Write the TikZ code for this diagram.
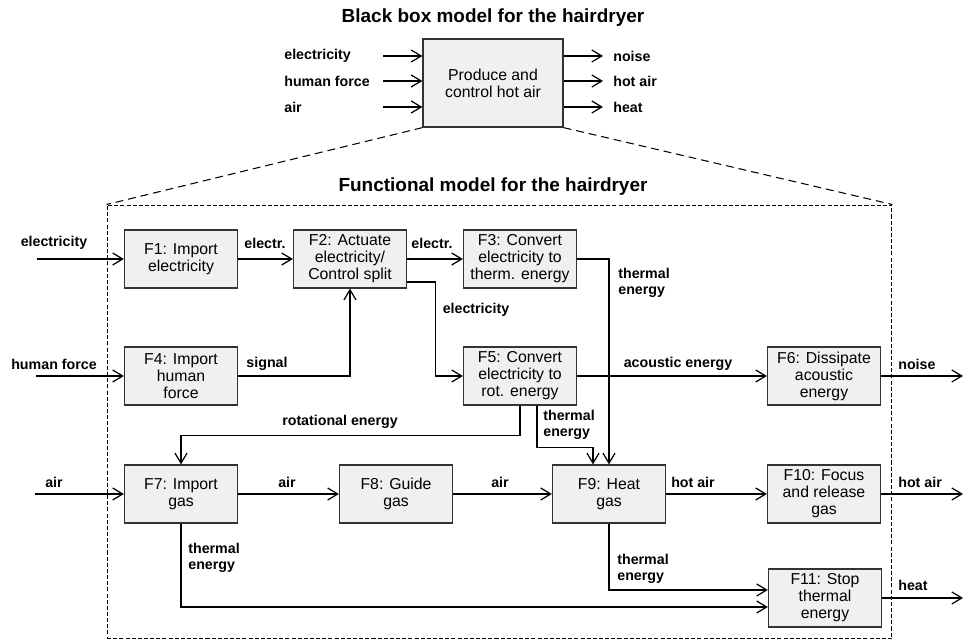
\documentclass[tikz,border=0pt]{standalone}
\usepackage{fontspec}
\setmainfont{Liberation Sans}
\usetikzlibrary{arrows.meta,calc}

\begin{document}
\begin{tikzpicture}[x=0.02cm,y=-0.02cm,
	fn/.style={draw=black!80, fill=black!6, line width=0.75pt, minimum width=2.26cm, minimum height=1.16cm, align=center, inner sep=1pt, font=\fontsize{9}{9.7}\selectfont},
	lbl/.style={font=\bfseries\fontsize{8.1}{9}\selectfont, align=left, inner sep=0pt},
	flow/.style={line width=0.7pt, -{Straight Barb[length=2mm,width=2.4mm]}},
	headline/.style={font=\bfseries\fontsize{10.8}{12}\selectfont}]
			%%%%% START %%%%%
			
			\useasboundingbox (0,0) rectangle (965,641);
			
			% black box
			\node[headline] (bbtitle) at (493,18) {Black box model for the hairdryer};
			\node[fn, minimum width=2.8cm, minimum height=1.76cm] (bb) at (493,83) {Produce and\\control hot air};
			
			\foreach \y/\t [count=\i] in {56/electricity, 81/human force, 107/air} {
				\coordinate (bbin\i) at (383,\y);
				\node[lbl, anchor=west] at (284,\y) {\t};
				\draw[flow] (bbin\i) -- (bbin\i -| bb.west);
			}
			\foreach \y/\t [count=\i] in {56/noise, 81/hot air, 107/heat} {
				\coordinate (bbout\i) at (603,\y);
				\draw[flow] (bbout\i -| bb.east) -- (bbout\i);
				\node[lbl, anchor=west] at (613,\y) {\t};
			}
			
			% functional model frame
			\node[headline] (fmtitle) at (493,187) {Functional model for the hairdryer};
			\node[draw, line width=0.6pt, dash pattern=on 2.3pt off 1.2pt, minimum width=15.7cm, minimum height=8.68cm, inner sep=0pt] (frame) at (499.5,422) {};
			\draw[line width=0.6pt, dash pattern=on 4.5pt off 2.8pt] (bb.south west) -- (frame.north west);
			\draw[line width=0.6pt, dash pattern=on 4.5pt off 2.8pt] (bb.south east) -- (frame.north east);
			
			% functions
			\node[fn] (f1) at (181,259) {F1: Import\\electricity};
			\node[fn] (f2) at (350,259) {F2: Actuate\\electricity/\\Control split};
			\node[fn] (f3) at (520,259) {F3: Convert\\electricity to\\therm. energy};
			\node[fn] (f4) at (181,376) {F4: Import\\human\\force};
			\node[fn] (f5) at (520,376) {F5: Convert\\electricity to\\rot. energy};
			\node[fn] (f6) at (824,376) {F6: Dissipate\\acoustic\\energy};
			\node[fn] (f7) at (181,494) {F7: Import\\gas};
			\node[fn] (f8) at (396,494) {F8: Guide\\gas};
			\node[fn] (f9) at (609,494) {F9: Heat\\gas};
			\node[fn] (f10) at (824,494) {F10: Focus\\and release\\gas};
			\node[fn] (f11) at (825,598) {F11: Stop\\thermal\\energy};
			
			% inputs
			\coordinate (inel) at (37,259);
			\coordinate (inhf) at (36,376);
			\coordinate (inair) at (35,494);
			\draw[flow] (inel) -- (f1);
			\draw[flow] (inhf) -- (f4);
			\draw[flow] (inair) -- (f7);
			\node[lbl] at (54,243) {electricity};
			\node[lbl] at (54,364) {human force};
			\node[lbl] at (54,482) {air};
			
			% flows between functions
			\draw[flow] (f1) -- (f2);
			\node[lbl] at (265,243) {electr.};
			\draw[flow] (f2) -- (f3);
			\node[lbl] at (432,243) {electr.};
			\draw[flow] ($(f2.east)+(0,23)$) -- ++(28,0) |- (f5);
			\node[lbl] at (476,310) {electricity};
			\draw[flow] (f4) -| (f2);
			\node[lbl] at (267,364) {signal};
			\draw[flow] (f3) -| (f9);
			\node[lbl, anchor=west] at (618,283) {thermal\\energy};
			\draw[flow] (f5) -- (f6);
			\node[lbl] at (678,364) {acoustic energy};
			\draw[flow] (f5.south) -- ++(0,30) -| (f7);
			\node[lbl] at (340,422) {rotational energy};
			\draw[flow] ($(f5.south)+(17,0)$) -- ++(0,42) -| ($(f9.north)+(-16,0)$);
			\node[lbl, anchor=west] at (543,425) {thermal\\energy};
			\draw[flow] (f7) -- (f8);
			\node[lbl] at (287,482) {air};
			\draw[flow] (f8) -- (f9);
			\node[lbl] at (500,482) {air};
			\draw[flow] (f9) -- (f10);
			\node[lbl] at (693,482) {hot air};
			\draw[flow] (f9) |- ($(f11.west)+(0,-8)$);
			\node[lbl, anchor=west] at (617,569) {thermal\\energy};
			\draw[flow] (f7) |- ($(f11.west)+(0,9)$);
			\node[lbl, anchor=west] at (188,558) {thermal\\energy};
			
			% outputs
			\coordinate (outnoise) at (963,376);
			\coordinate (outair) at (963,494);
			\coordinate (outheat) at (963,598);
			\draw[flow] (f6) -- (outnoise);
			\draw[flow] (f10) -- (outair);
			\draw[flow] (f11) -- (outheat);
			\node[lbl, anchor=west] at (898,364) {noise};
			\node[lbl, anchor=west] at (898,482) {hot air};
			\node[lbl, anchor=west] at (898,585) {heat};
			
			%%%%% END %%%%%
\end{tikzpicture}
\end{document}
